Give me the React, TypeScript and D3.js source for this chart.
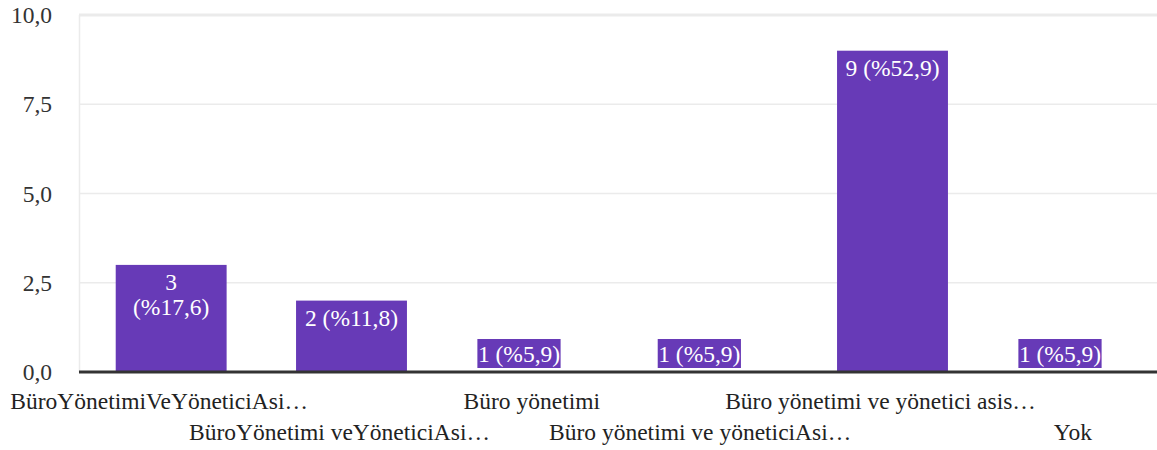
import React from "react";
import * as d3 from "d3";

const categories = [
  "BüroYönetimiVeYöneticiAsi…",
  "BüroYönetimi veYöneticiAsi…",
  "Büro yönetimi",
  "Büro yönetimi ve yöneticiAsi…",
  "Büro yönetimi ve yönetici asis…",
  "Yok",
];
const values = [3, 2, 1, 1, 9, 1];
const valueLabels = ["3\n(%17,6)", "2 (%11,8)", "1 (%5,9)", "1 (%5,9)", "9 (%52,9)", "1 (%5,9)"];
const yTicks = [0, 2.5, 5, 7.5, 10];

const W = 1157;
const H = 450;
const FONT = "Liberation Serif, Times New Roman, Times, serif";
const PURPLE = "#673ab7";

export default function App() {
  const x = d3
    .scaleBand<number>()
    .domain(values.map((_, i) => i))
    .range([81, 1163])
    .paddingInner(0.385)
    .paddingOuter(0.1925);
  const y = d3.scaleLinear().domain([0, 10]).range([372, 15]);
  const fmt = (v: number) => v.toFixed(1).replace(".", ",");
  const fs = 23.5;
  const approxW = (s: string) => {
    let w = 0;
    for (const c of s) {
      if (c === " " || c === ",") w += 0.25;
      else if (c === "(" || c === ")") w += 0.333;
      else if (c === "%") w += 0.833;
      else w += 0.5;
    }
    return w * fs;
  };

  return (
    <svg width={W} height={H} style={{ position: "absolute", left: 0, top: 0, fontFamily: FONT }}>
      <rect x={0} y={0} width={W} height={H} fill="#fff" />
      {yTicks.map((t) => (
        <line
          key={"g" + t}
          x1={79}
          x2={W}
          y1={y(t)}
          y2={y(t)}
          stroke="#ebebeb"
          strokeWidth={t === 10 ? 3 : 1.5}
        />
      ))}
      <line x1={79.5} x2={79.5} y1={y(10)} y2={y(0)} stroke="#ebebeb" strokeWidth={1.5} />
      {yTicks.map((t) => (
        <text key={"t" + t} x={52} y={y(t) + 8} textAnchor="end" fontSize={fs} fill="#333" style={{ fontFamily: FONT }}>
          {fmt(t)}
        </text>
      ))}
      {values.map((v, i) => {
        const bx = x(i)!;
        const bw = x.bandwidth();
        const top = y(v);
        const h = y(0) - top;
        const lines = valueLabels[i].split("\n");
        if (h < 40) {
          const lw = approxW(lines[0]) + 1;
          return (
            <g key={"b" + i}>
              <rect x={bx + 1} y={y(0) - 33} width={lw} height={29} fill={PURPLE} />
              <text x={bx + 1.5} y={y(0) - 10} fontSize={fs} fill="#fff" style={{ fontFamily: FONT }}>
                {lines[0]}
              </text>
            </g>
          );
        }
        return (
          <g key={"b" + i}>
            <rect x={bx} y={top} width={bw} height={h} fill={PURPLE} />
            {lines.map((l, k) => (
              <text
                key={k}
                x={bx + bw / 2}
                y={top + 25 + k * 25}
                textAnchor="middle"
                fontSize={fs}
                fill="#fff"
                style={{ fontFamily: FONT }}
              >
                {l}
              </text>
            ))}
          </g>
        );
      })}
      <line x1={79} x2={W} y1={y(0)} y2={y(0)} stroke="#333" strokeWidth={3} />
      {categories.map((c, i) => (
        <text
          key={"x" + i}
          x={x(i)! + x.bandwidth() / 2 + (c.endsWith("…") ? -12 : 0)}
          y={i % 2 === 0 ? 409 : 440}
          textAnchor="middle"
          fontSize={fs}
          fill="#222"
          style={{ fontFamily: FONT }}
        >
          {c}
        </text>
      ))}
    </svg>
  );
}
